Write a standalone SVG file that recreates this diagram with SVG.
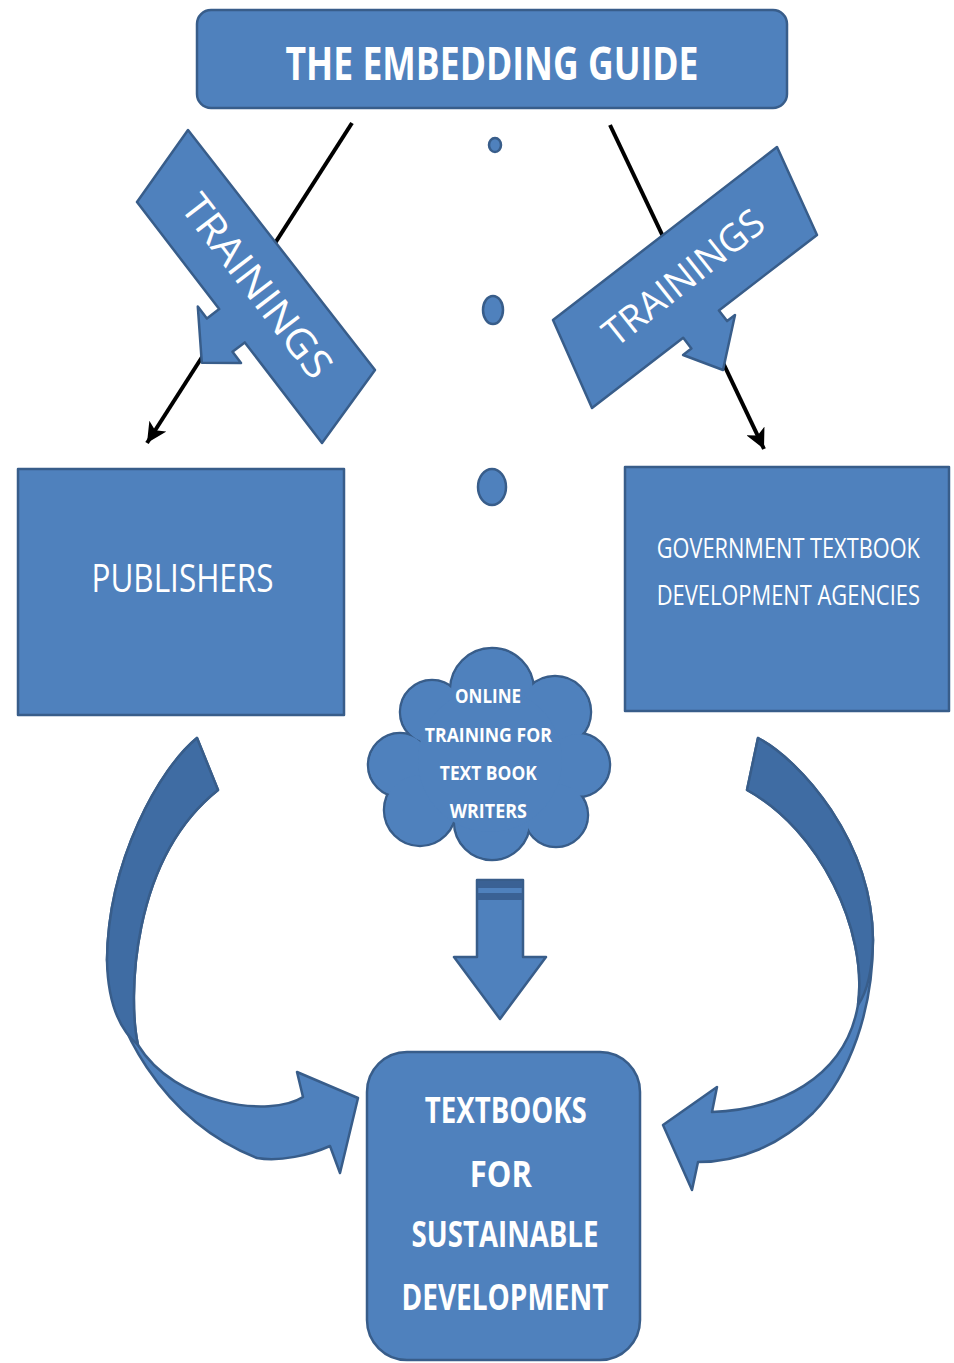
<svg xmlns="http://www.w3.org/2000/svg" width="954" height="1363" viewBox="0 0 954 1363">
<style>
.shp{fill:#4f81bd;stroke:#385d8a;stroke-width:2.5;stroke-linejoin:round}
.dark{fill:#3f6ca3;stroke:#385d8a;stroke-width:2.5;stroke-linejoin:round}
.fillonly{fill:#4f81bd;stroke:none}
.t{fill:#ffffff;font-family:"Open Sans","Liberation Sans",sans-serif;text-anchor:middle}
.b{font-weight:bold}
.ln{stroke:#000;stroke-width:4;fill:none}
</style>
<defs>
<marker id="ah" markerUnits="userSpaceOnUse" markerWidth="22" markerHeight="20" refX="20" refY="10" orient="auto">
<path d="M0,0 L20,10 L0,20 L5,10 z" fill="#000"/>
</marker>
</defs>
<g id="connectors">
<line class="ln" x1="352" y1="123" x2="147" y2="443" marker-end="url(#ah)"/>
<line class="ln" x1="610" y1="125" x2="764" y2="449" marker-end="url(#ah)"/>
<ellipse class="shp" cx="495" cy="145" rx="6" ry="7" stroke-width="1.5"/>
<ellipse class="shp" cx="493" cy="310" rx="10" ry="14" stroke-width="1.5"/>
<ellipse class="shp" cx="492" cy="487" rx="14" ry="18" stroke-width="1.5"/>
<g id="curved-left">
<path class="shp" d="M197,738 C160,768 108,860 107,960 C110,1020 160,1120 257,1158 C280,1162 310,1155 330,1146 L340,1173 L358,1098 L297,1072 L303,1097 C270,1118 175,1105 138,1045 C128,1000 130,860 218,790 Z"/>
<path class="dark" d="M197,738 C160,768 108,860 107,960 Q108,1020 138,1045 C128,1000 130,860 218,790 Z"/>
</g>
<g id="curved-right">
<path class="shp" d="M758,738 C800,760 872,840 873,940 C873,1010 850,1075 813,1113 C780,1145 740,1162 698,1162 L692,1190 L663,1125 L717,1087 L712,1112 C775,1110 845,1080 858,1005 C868,930 820,830 747,790 Z"/>
<path class="dark" d="M758,738 C800,760 872,840 873,940 Q872,985 858,1005 C868,930 820,830 747,790 Z"/>
</g>
<g id="down-arrow">
<path class="shp" d="M477,880 L523,880 L523,957 L546,957 L500,1019 L454,957 L477,957 Z"/>
<rect x="478" y="881" width="44" height="7" fill="#3a6194"/>
<rect x="478" y="893" width="44" height="7" fill="#3a6194"/>
</g>
</g>
<g id="guide">
<rect class="shp" x="197" y="10" width="590" height="98" rx="14"/>
<text class="t b" x="492" y="80" font-size="46" textLength="413" lengthAdjust="spacingAndGlyphs">THE EMBEDDING GUIDE</text>
</g>
<g id="trainings-left">
<path class="shp" d="M188,130 L375,370 L322,443 L244.8,342.4 L232.5,351.8 L241,362.9 L201.8,362.7 L197.8,306.6 L206.9,318.5 L219.2,309.1 L137,202 Z"/>
<g transform="translate(257,286) rotate(52.5)">
<text class="t" x="0" y="14" font-size="40" textLength="220" lengthAdjust="spacingAndGlyphs">TRAININGS</text>
</g>
</g>
<g id="trainings-right">
<path class="shp" d="M777,147 L817,235 L718.9,310.4 L727.1,321.1 L735,315 L723,370 L683.1,355 L691.4,348.5 L683.2,337.8 L592,408 L553,320 Z"/>
<g transform="translate(683,277) rotate(-38.5)">
<text class="t" x="0" y="14" font-size="38" textLength="194" lengthAdjust="spacingAndGlyphs">TRAININGS</text>
</g>
</g>
<g id="publishers">
<rect class="shp" x="18" y="469" width="326" height="246"/>
<text class="t" x="182.5" y="592" font-size="38" textLength="182" lengthAdjust="spacingAndGlyphs">PUBLISHERS</text>
</g>
<g id="government">
<rect class="shp" x="625" y="467" width="324" height="244"/>
<text class="t" transform="translate(788.3,558) scale(0.8,1)" x="0" y="0" font-size="28" textLength="329" lengthAdjust="spacingAndGlyphs">GOVERNMENT TEXTBOOK</text>
<text class="t" transform="translate(788.3,605) scale(0.8,1)" x="0" y="0" font-size="28" textLength="329" lengthAdjust="spacingAndGlyphs">DEVELOPMENT AGENCIES</text>
</g>
<g id="online-training">
<g class="shp">
<circle cx="400" cy="765" r="32"/>
<circle cx="432" cy="712" r="32"/>
<circle cx="492" cy="690" r="42"/>
<circle cx="555" cy="712" r="36"/>
<circle cx="578" cy="765" r="32"/>
<circle cx="556" cy="815" r="32"/>
<circle cx="492" cy="822" r="38"/>
<circle cx="420" cy="810" r="36"/>
</g>
<g class="fillonly">
<circle cx="400" cy="765" r="30.8"/>
<circle cx="432" cy="712" r="30.8"/>
<circle cx="492" cy="690" r="40.8"/>
<circle cx="555" cy="712" r="34.8"/>
<circle cx="578" cy="765" r="30.8"/>
<circle cx="556" cy="815" r="30.8"/>
<circle cx="492" cy="822" r="36.8"/>
<circle cx="420" cy="810" r="34.8"/>
<circle cx="490" cy="760" r="72"/>
</g>
<text class="t b" x="488" y="703" font-size="19" textLength="66" lengthAdjust="spacingAndGlyphs">ONLINE</text>
<text class="t b" x="488.3" y="742" font-size="19" textLength="127" lengthAdjust="spacingAndGlyphs">TRAINING FOR</text>
<text class="t b" x="488.3" y="780" font-size="19" textLength="97" lengthAdjust="spacingAndGlyphs">TEXT BOOK</text>
<text class="t b" x="488.3" y="818" font-size="19" textLength="77" lengthAdjust="spacingAndGlyphs">WRITERS</text>
</g>
<g id="textbooks">
<rect class="shp" x="367" y="1052" width="273" height="308" rx="40"/>
<text class="t b" x="505.8" y="1123" font-size="35" textLength="162" lengthAdjust="spacingAndGlyphs">TEXTBOOKS</text>
<text class="t b" x="500.8" y="1187" font-size="35" textLength="62" lengthAdjust="spacingAndGlyphs">FOR</text>
<text class="t b" x="505" y="1247" font-size="35" textLength="187" lengthAdjust="spacingAndGlyphs">SUSTAINABLE</text>
<text class="t b" x="505" y="1310" font-size="35" textLength="207" lengthAdjust="spacingAndGlyphs">DEVELOPMENT</text>
</g>
</svg>
